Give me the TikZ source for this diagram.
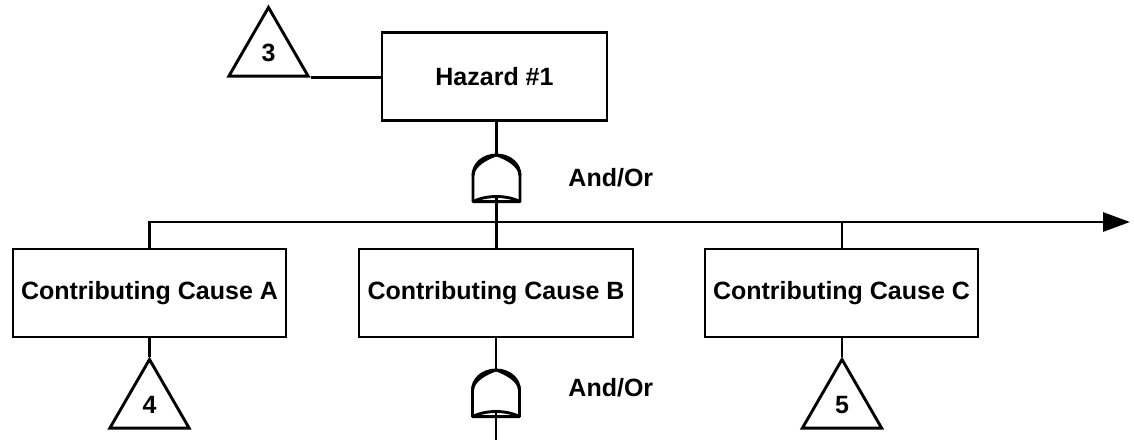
\documentclass[tikz,border=0pt]{standalone}
\usepackage{fontspec}
\setmainfont{Liberation Sans}
\usetikzlibrary{shapes.geometric,arrows.meta}

\tikzset{
  every picture/.style={x=1pt,y=-1pt,line width=2.9pt},
  event/.style={draw,rectangle,minimum height=88pt,inner sep=2pt,
    font=\fontsize{25}{30}\selectfont\bfseries},
  transfer/.style={draw,regular polygon,regular polygon sides=3,
    minimum size=91.5pt,inner sep=0pt,
    font=\fontsize{25}{30}\selectfont\bfseries},
  gatelabel/.style={anchor=base west,inner sep=0pt,
    font=\fontsize{25}{30}\selectfont\bfseries},
  link/.style={line width=2.9pt},
  andor/.pic={
    % combined AND / OR gate symbol, centred on the pic origin
    \draw[line join=round]
      (-23.5,23.3) -- (-23.5,-3)
      .. controls (-23.5,-14.5) and (-13,-23.3) .. (0,-23.3)
      .. controls (13,-23.3) and (23.5,-14.5) .. (23.5,-3)
      -- (23.5,23.3) -- cycle;
    \draw (-23.5,-3) .. controls (-23.5,-13) and (-9,-20.5) .. (0,-23.3)
                     .. controls (9,-20.5) and (23.5,-13) .. (23.5,-3);
    \draw (-23.5,23.3) .. controls (-10,16.5) and (10,16.5) .. (23.5,23.3);
    \coordinate (-top) at (0,-23.3);
    \coordinate (-in) at (0,18.2);
  }
}

\begin{document}
\begin{tikzpicture}
  \useasboundingbox (0,0) rectangle (1134,440);

  % top event and its transfer symbol
  \node[event,minimum width=225pt] (hz) at (494.5,76.5) {Hazard \#1};
  \node[transfer] (t3) at (268.5,53.2) {3};

  % gate under the top event
  \pic (g1) at (496.5,178.3) {andor};
  \node[gatelabel] (l1) at (567,186) {And/Or};

  % contributing causes
  \node[event,minimum width=273pt] (cA) at (149.5,293) {Contributing Cause A};
  \node[event,minimum width=274pt] (cB) at (496,293) {Contributing Cause B};
  \node[event,minimum width=273pt] (cC) at (841.5,293) {Contributing Cause C};

  % transfers below causes A and C
  \node[transfer] (t4) at (149.5,405.2) {4};
  \node[transfer] (t5) at (842,405.2) {5};

  % gate under cause B
  \pic (g2) at (496,393.3) {andor};
  \node[gatelabel] (l2) at (567,396) {And/Or};

  % bus line
  \coordinate (bus) at (0,222);
  \coordinate (busEnd) at (1130,222);
  \coordinate (tail) at (496,440);

  % connectors
  \draw[link] (t3.corner 3) -- (t3.corner 3 -| hz.west);
  \draw[link] (g1-top |- hz.south) -- (g1-top);
  \draw[link] (g1-in) -- (g1-in |- cB.north);
  \draw[link,-{Triangle[length=27pt,width=19pt]}]
    (cA.north) -- (cA.north |- bus) -- (busEnd);
  \draw[link] (cC.north -| t5.corner 1) -- (t5.corner 1 |- bus);
  \draw[link] (cA.south) -- (t4.corner 1);
  \draw[link] (cC.south -| t5.corner 1) -- (t5.corner 1);
  \draw[link] (cB.south -| g2-top) -- (g2-top);
  \draw[link] (g2-in) -- (tail);
\end{tikzpicture}
\end{document}
